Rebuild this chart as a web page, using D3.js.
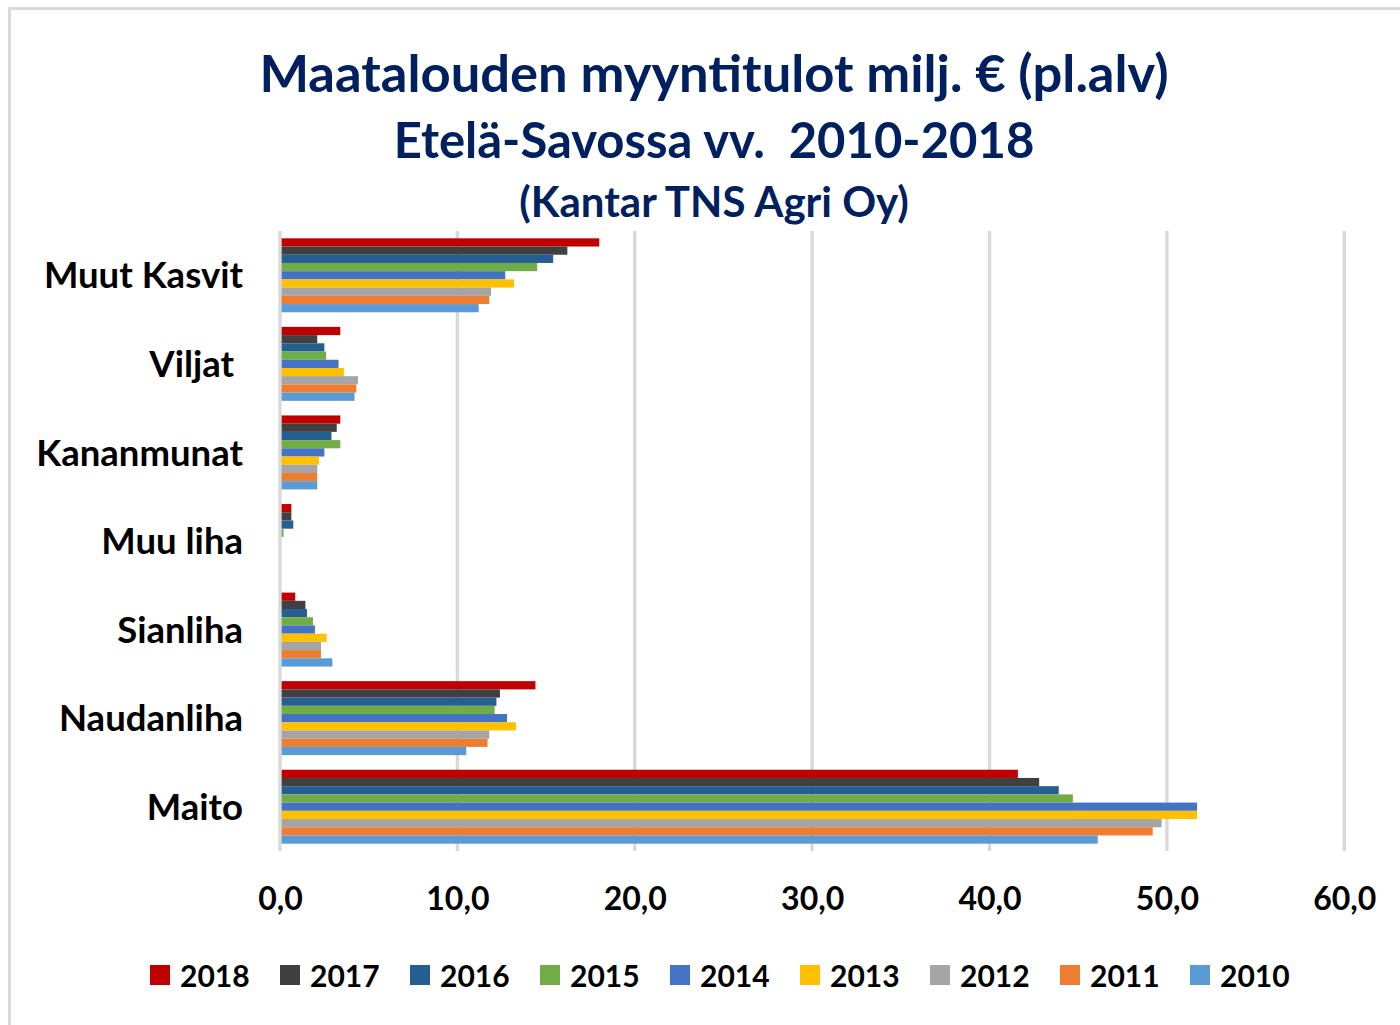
<!DOCTYPE html>
<html>
<head>
<meta charset="utf-8">
<script src="https://cdn.jsdelivr.net/npm/d3@7"></script>
<style>
  html, body { margin: 0; padding: 0; background: #fff; }
  svg { display: block; font-family: Lato, "Open Sans", sans-serif; }
  text { white-space: pre; }
</style>
</head>
<body>
<svg id="chart" width="1400" height="1025"></svg>
<script>
// ---- data ----
const categories = ["Muut Kasvit", "Viljat ", "Kananmunat", "Muu liha", "Sianliha", "Naudanliha", "Maito"];
const years = ["2018", "2017", "2016", "2015", "2014", "2013", "2012", "2011", "2010"];
const v2018 = [18.0, 3.4, 3.4, 0.64, 0.86, 14.4, 41.6];
const v2017 = [16.2, 2.1, 3.2, 0.64, 1.43, 12.4, 42.8];
const v2016 = [15.4, 2.5, 2.9, 0.75, 1.52, 12.2, 43.9];
const v2015 = [14.5, 2.6, 3.4, 0.2, 1.86, 12.1, 44.7];
const v2014 = [12.7, 3.3, 2.5, 0.05, 1.97, 12.8, 51.7];
const v2013 = [13.2, 3.6, 2.2, 0.02, 2.63, 13.3, 51.7];
const v2012 = [11.9, 4.4, 2.1, 0.02, 2.31, 11.8, 49.7];
const v2011 = [11.8, 4.3, 2.1, 0.02, 2.31, 11.7, 49.2];
const v2010 = [11.2, 4.2, 2.1, 0.02, 2.95, 10.5, 46.1];
const seriesValues = [v2018, v2017, v2016, v2015, v2014, v2013, v2012, v2011, v2010];
const tickValues = [0, 10, 20, 30, 40, 50, 60];
const titleLines = ["Maatalouden myyntitulot milj. € (pl.alv)", "Etelä-Savossa vv.  2010-2018", "(Kantar TNS Agri Oy)"];

const colors = ["#C00000", "#404040", "#255E91", "#70AD47", "#4472C4", "#FFC000", "#A5A5A5", "#ED7D31", "#5B9BD5"];

const svg = d3.select("#chart");

// frame
svg.append("rect").attr("x", 9.5).attr("y", 8.5).attr("width", 1400).attr("height", 1030)
  .attr("fill", "none").attr("stroke", "#d9d9d9").attr("stroke-width", 3);

// title
const titleY = [92, 158, 217];
const titleSize = [52.5, 49, 42];
titleLines.forEach((t, i) => {
  svg.append("text").attr("x", 714).attr("y", titleY[i])
    .attr("text-anchor", "middle").attr("font-weight", 700)
    .attr("font-size", titleSize[i]).attr("fill", "#002060").text(t);
});

// scales
const x = d3.scaleLinear().domain([0, 60]).range([280, 1344.3]);
const y = d3.scaleBand().domain(categories).range([231, 851]).paddingInner(0.165).paddingOuter(0.0825);
const yInner = d3.scaleBand().domain(years).range([0, y.bandwidth()]);

// gridlines
svg.append("g").selectAll("line").data(tickValues.filter(d => d !== 0)).join("line")
  .attr("x1", d => x(d)).attr("x2", d => x(d)).attr("y1", 231).attr("y2", 851)
  .attr("stroke", "#d9d9d9").attr("stroke-width", 3.4);

// bars
const data = [];
categories.forEach((c, ci) => {
  years.forEach((yr, si) => {
    data.push({ cat: c, year: yr, value: seriesValues[si][ci], color: colors[si] });
  });
});
svg.append("g").selectAll("rect").data(data).join("rect")
  .attr("x", x(0))
  .attr("y", d => y(d.cat) + yInner(d.year))
  .attr("width", d => x(d.value) - x(0))
  .attr("height", yInner.bandwidth())
  .attr("fill", d => d.color);

// zero line
svg.append("line").attr("x1", x(0)).attr("x2", x(0)).attr("y1", 231).attr("y2", 851)
  .attr("stroke", "#d9d9d9").attr("stroke-width", 3.4);

// x axis labels
const xAxis = d3.axisBottom(x).tickValues(tickValues).tickSize(0).tickPadding(0)
  .tickFormat(d => d3.format(".1f")(d).replace(".", ","));
const gx = svg.append("g").attr("transform", "translate(0,910)").call(xAxis);
gx.select(".domain").remove();
gx.selectAll("text").attr("dy", 0).attr("font-size", 32).attr("font-weight", 700)
  .attr("fill", "#000").attr("font-family", "Lato, 'Open Sans', sans-serif");

// y axis labels
const yAxis = d3.axisLeft(y).tickSize(0).tickPadding(0);
const gy = svg.append("g").attr("transform", "translate(243,0)").call(yAxis);
gy.select(".domain").remove();
gy.selectAll("text").attr("dy", "0.36em").attr("font-size", 36.5).attr("font-weight", 700)
  .attr("fill", "#000").attr("font-family", "Lato, 'Open Sans', sans-serif");

// legend
const legend = svg.append("g").selectAll("g").data(years).join("g")
  .attr("transform", (d, i) => `translate(${150 + i * 130},965)`);
legend.append("rect").attr("width", 20).attr("height", 20).attr("fill", (d, i) => colors[i]);
legend.append("text").attr("x", 30).attr("y", 21.5).attr("font-size", 30).attr("font-weight", 700)
  .attr("fill", "#000").text(d => d);
</script>
</body>
</html>
